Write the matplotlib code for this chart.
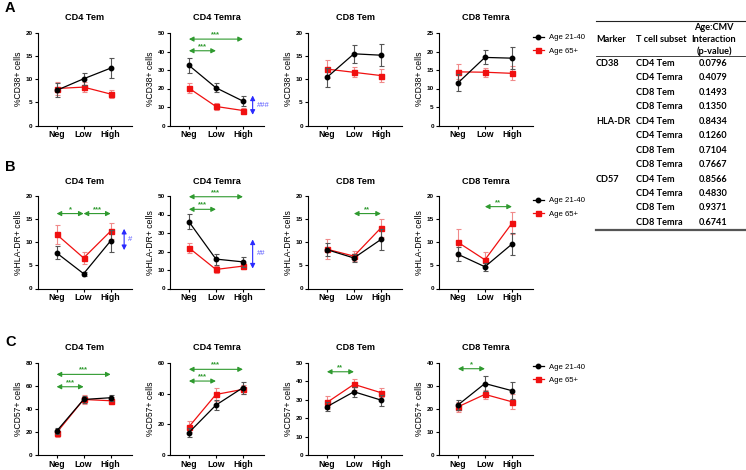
import matplotlib
matplotlib.use("Agg")
import matplotlib.pyplot as plt
from matplotlib.lines import Line2D

plt.rcParams['font.family'] = ['Liberation Sans', 'DejaVu Sans']

W, H = 746, 470

cats = ['Neg', 'Low', 'High']
titles = ['CD4 Tem', 'CD4 Temra', 'CD8 Tem', 'CD8 Temra']
row_letters = ['A', 'B', 'C']
ylabels = ['%CD38+ cells', '%HLA-DR+ cells', '%CD57+ cells']
legend_labels = ['Age 21-40', 'Age 65+']

# Row A: CD38
cd38_young = [[7.6, 10.1, 12.4], [32.5, 20.4, 13.2], [10.4, 15.5, 15.2], [11.5, 18.4, 18.2]]
cd38_young_err = [[1.5, 1.3, 2.1], [4.2, 2.5, 2.5], [2.0, 1.9, 2.4], [2.3, 1.9, 2.9]]
cd38_old = [[8.0, 8.3, 6.8], [20.2, 10.3, 8.1], [12.2, 11.5, 10.8], [14.5, 14.4, 14.1]]
cd38_old_err = [[1.3, 1.0, 0.8], [2.6, 1.8, 1.3], [2.0, 1.1, 1.4], [2.0, 1.2, 1.9]]

# Row B: HLA-DR
hla_young = [[7.7, 3.2, 10.3], [36.1, 15.9, 14.4], [8.4, 6.6, 10.6], [7.4, 4.7, 9.6]]
hla_young_err = [[1.4, 0.4, 2.4], [4.2, 3.0, 2.8], [1.4, 0.8, 2.2], [1.5, 0.9, 2.35]]
hla_old = [[11.7, 6.6, 12.4], [22.0, 10.3, 12.1], [8.5, 7.0, 13.1], [10.0, 6.2, 14.1]]
hla_old_err = [[2.1, 1.3, 1.8], [2.8, 1.8, 1.8], [2.1, 1.1, 1.9], [2.9, 1.6, 2.4]]

# Row C: CD57
cd57_young = [[20.8, 48.2, 49.7], [14.7, 32.5, 43.8], [26.2, 34.3, 29.8], [21.7, 31.0, 27.9]]
cd57_young_err = [[2.5, 3.0, 2.5], [3.0, 3.5, 4.0], [2.5, 2.7, 3.0], [2.3, 3.2, 3.7]]
cd57_old = [[19.4, 48.2, 47.1], [18.4, 39.4, 42.7], [28.5, 38.3, 33.8], [20.9, 26.3, 23.1]]
cd57_old_err = [[3.5, 3.5, 3.0], [3.5, 4.0, 3.0], [3.5, 3.0, 2.5], [2.2, 2.0, 3.2]]

ymax = [[20, 50, 20, 25], [20, 50, 20, 20], [80, 60, 50, 40]]
ystep = [[5, 10, 5, 5], [5, 10, 5, 5], [20, 20, 10, 10]]

# significance: (row, col, x_from, x_to, y, label)
sig_marks = [
    (0, 1, 0, 2, 46.7, '***'), (0, 1, 0, 1, 40.4, '***'),
    (1, 0, 0, 1, 16.2, '*'), (1, 0, 1, 2, 16.2, '***'),
    (1, 1, 0, 2, 49.6, '***'), (1, 1, 0, 1, 42.8, '***'),
    (1, 2, 1, 2, 16.2, '**'),
    (1, 3, 1, 2, 17.7, '**'),
    (2, 0, 0, 2, 69.9, '***'), (2, 0, 0, 1, 59.2, '***'),
    (2, 1, 0, 2, 55.7, '***'), (2, 1, 0, 1, 48.1, '***'),
    (2, 2, 0, 1, 45.1, '**'),
    (2, 3, 0, 1, 37.4, '*'),
]
# age effect: (row, col, y_low, y_high, label)
age_marks = [
    (0, 1, 5.8, 16.2, '###'),
    (1, 0, 8.3, 12.9, '#'),
    (1, 1, 10.8, 26.5, '##'),
]

# table
tbl_marker = ['CD38', '', '', '', 'HLA-DR', '', '', '', 'CD57', '', '', '']
tbl_subset = ['CD4 Tem', 'CD4 Temra', 'CD8 Tem', 'CD8 Temra'] * 3
tbl_pvalue = ['0.0796', '0.4079', '0.1493', '0.1350', '0.8434', '0.1260',
              '0.7104', '0.7667', '0.8566', '0.4830', '0.9371', '0.6741']

young_sets = [(cd38_young, cd38_young_err), (hla_young, hla_young_err), (cd57_young, cd57_young_err)]
old_sets = [(cd38_old, cd38_old_err), (hla_old, hla_old_err), (cd57_old, cd57_old_err)]

fig = plt.figure(figsize=(W / 100, H / 100), dpi=100)


def fx(x):
    return x / W


def fy(y):
    return 1 - y / H


col_left = [37.7, 170, 308, 439]
ax_w = 94
row_top = [33, 196, 362.7]
ax_h = 92.5
letter_y = [7.5, 167, 342]

GREEN = '#2f9a2f'
BLUE = '#2a2aff'
RED = '#f01010'
RED_ERR = '#f08a8a'

for r in range(3):
    for c in range(4):
        ax = fig.add_axes([fx(col_left[c]), fy(row_top[r] + ax_h), ax_w / W, ax_h / H])
        x = [0, 1, 2]
        ov, oe = old_sets[r][0][c], old_sets[r][1][c]
        yv, ye = young_sets[r][0][c], young_sets[r][1][c]
        ax.errorbar(x, ov, yerr=oe, color=RED, ecolor=RED_ERR, elinewidth=0.8, capsize=1.8,
                    capthick=0.8, lw=0.9, marker='s', ms=3.6, mec=RED, mfc=RED, zorder=3)
        ax.errorbar(x, yv, yerr=ye, color='black', ecolor='#555555', elinewidth=0.8, capsize=1.8,
                    capthick=0.8, lw=0.9, marker='o', ms=3.2, zorder=4)
        ax.set_xlim(-0.7, 2.78)
        ax.set_ylim(0, ymax[r][c])
        ax.set_yticks(range(0, ymax[r][c] + 1, ystep[r][c]))
        ax.set_xticks(x)
        ax.set_xticklabels(cats, fontsize=6.3, fontweight='bold')
        for lab in ax.get_yticklabels():
            lab.set_fontsize(4.6)
            lab.set_fontweight('bold')
        ax.tick_params(axis='both', length=2.2, width=0.8, pad=1.5)
        ax.tick_params(axis='x', pad=1.2)
        for s in ['top', 'right']:
            ax.spines[s].set_visible(False)
        for s in ['left', 'bottom']:
            ax.spines[s].set_linewidth(0.8)
        ax.set_ylabel(ylabels[r], fontsize=6.2, labelpad=2)
        ax.set_title(titles[c], fontsize=6.6, fontweight='bold', pad=9)

        for (rr, cc, x0, x1, yy, lab) in sig_marks:
            if rr == r and cc == c:
                ax.annotate('', xy=(x1, yy), xytext=(x0, yy),
                            arrowprops=dict(arrowstyle='<|-|>,head_length=0.35,head_width=0.18',
                                            color=GREEN, lw=0.8, shrinkA=0, shrinkB=0,
                                            mutation_scale=8), annotation_clip=False)
                ax.annotate(lab, xy=((x0 + x1) / 2, yy), xytext=(0, 0.5), textcoords='offset points',
                            ha='center', va='bottom', fontsize=5.5, fontweight='bold', color=GREEN,
                            annotation_clip=False)
        for (rr, cc, y0, y1, lab) in age_marks:
            if rr == r and cc == c:
                xa = 2.5 if c == 0 else 2.36
                ax.annotate('', xy=(xa, y1), xytext=(xa, y0),
                            arrowprops=dict(arrowstyle='<|-|>,head_length=0.35,head_width=0.18',
                                            color=BLUE, lw=0.8, shrinkA=0, shrinkB=0,
                                            mutation_scale=8), annotation_clip=False)
                ax.annotate(lab, xy=(xa, (y0 + y1) / 2), xytext=(3, 0), textcoords='offset points',
                            ha='left', va='center', fontsize=5.5, color='#5a5aff',
                            annotation_clip=False)
        if c == 3:
            handles = [Line2D([], [], color='black', marker='o', ms=3.2, lw=0.9),
                       Line2D([], [], color=RED, marker='s', ms=3.6, lw=0.9)]
            leg_y = [34, 197, 363.5][r]
            ax.legend(handles, legend_labels, loc='upper left',
                      bbox_to_anchor=(fx(533), fy(leg_y)), bbox_transform=fig.transFigure,
                      frameon=False, fontsize=5.6, handlelength=1.4, handletextpad=0.6,
                      labelspacing=0.75, borderaxespad=0, borderpad=0)
    fig.text(fx(5), fy(letter_y[r]), row_letters[r], fontsize=10.5, fontweight='bold',
             ha='left', va='center')

# Table
tfont = ['Lato', 'DejaVu Sans']
fig.add_artist(Line2D([fx(596), fx(745)], [fy(20.7), fy(20.7)], color='#222222', lw=0.8,
                      transform=fig.transFigure))
fig.add_artist(Line2D([fx(596), fx(745)], [fy(55.5), fy(55.5)], color='#222222', lw=0.6,
                      transform=fig.transFigure))
fig.add_artist(Line2D([fx(596), fx(745)], [fy(230.5), fy(230.5)], color='#555555', lw=1.6,
                      transform=fig.transFigure))
fig.text(fx(596), fy(39.5), 'Marker', fontsize=6.6, fontweight='bold', family=tfont,
         ha='left', va='center')
fig.text(fx(636), fy(39.5), 'T cell subset', fontsize=6.6, fontweight='bold', family=tfont,
         ha='left', va='center')
for i, line in enumerate(['Age:CMV', 'Interaction', '(p-value)']):
    fig.text(fx(714), fy(28 + 11.6 * i), line, fontsize=6.6, fontweight='bold', family=tfont,
             ha='center', va='center')
for i in range(len(tbl_subset)):
    yy = 63.5 + 14.45 * i
    if tbl_marker[i]:
        fig.text(fx(596), fy(yy), tbl_marker[i], fontsize=6.6, fontweight='bold', family=tfont,
                 ha='left', va='center')
    fig.text(fx(636), fy(yy), tbl_subset[i], fontsize=6.6, fontweight='bold', family=tfont,
             ha='left', va='center')
    fig.text(fx(713), fy(yy), tbl_pvalue[i], fontsize=6.6, fontweight='bold', family=tfont,
             ha='center', va='center')

fig.savefig('out.png', dpi=100)
